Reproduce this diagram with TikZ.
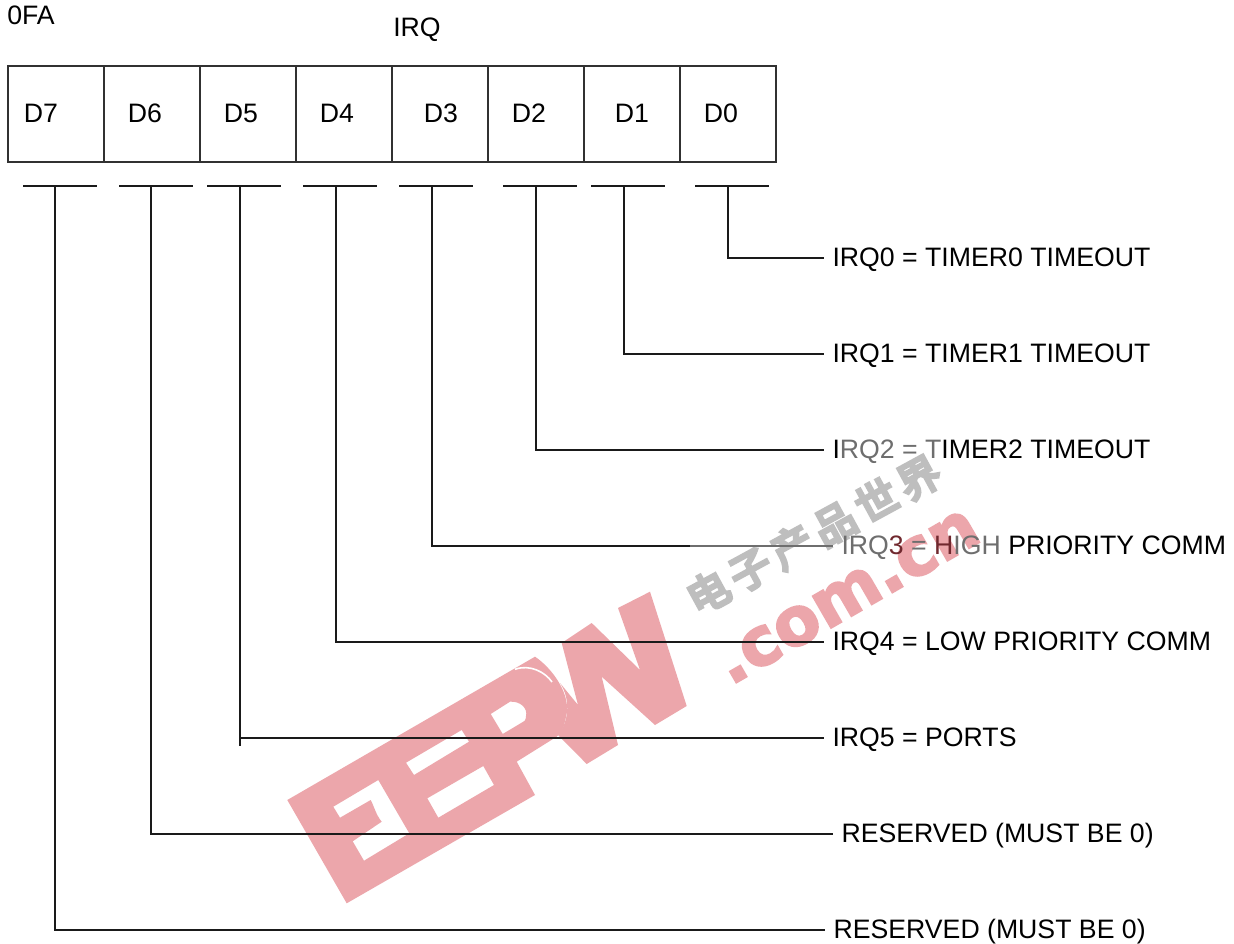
\documentclass[tikz,border=0pt]{standalone}
\usepackage{fontspec}
\setmainfont{Liberation Sans}
\newfontfamily\cjkmark[FakeBold=8]{Noto Sans CJK SC}
\newfontfamily\latmark[FakeBold=3]{DejaVu Sans Bold}
\definecolor{wmred}{HTML}{ECA6AB}
\definecolor{wmgray}{HTML}{BEBEBE}
\definecolor{ink}{HTML}{1A1A1A}
\definecolor{fade}{HTML}{6E6E6E}
\definecolor{deepred}{HTML}{70282E}
\tikzset{
  wire/.style={draw=ink,line width=1pt},
  cell/.style={draw=ink!90,line width=1.25pt,outer sep=0pt,minimum width=72pt,minimum height=72pt,inner sep=0pt,anchor=north west},
  txt/.style={font=\fontsize{20}{20}\selectfont,text=black,inner ysep=0pt,inner xsep=0pt,text height=14.3pt,text depth=0pt,anchor=west},
  lab/.style={txt,inner xsep=6.2pt,text depth=1.5pt},
}
\begin{document}
\begin{tikzpicture}[x=.75pt,y=-.75pt]
\useasboundingbox (0,0) rectangle (1234,944);
\fill[white] (0,0) rectangle (1234,944);
% watermark
\fill[wmred,even odd rule]
  (287.3,800) -- (535,656.7) .. controls (552,668) and (572,695) .. (566,717)
  .. controls (564,727) and (562,732) .. (556.7,736.7) -- (516.7,761.7) -- (535,795) -- (346.7,903.3) -- cycle
  (333.3,806.7) -- (378.3,780) -- (409.3,833.3) -- (364,860.7) -- (352.7,841.3) -- (381.7,821.7)
     .. controls (376,815) and (374,806) .. (370.7,800) -- (340,817.7) -- cycle
  (406,762.7) -- (461.7,730) -- (469,741.7) -- (414,775) -- cycle
  (427.3,798.3) -- (483.3,766) -- (494,785) -- (438.3,817.7) -- cycle
  (490.7,714) -- (510,701.7) .. controls (520,701) and (528,708) .. (526,716) .. controls (526,720) and (524,722) .. (523.3,721.7) -- (502.7,734) -- cycle;
\fill[wmred]
  (560,683) -- (578,705) -- (561.7,643) -- (591.7,623) -- (640,670) -- (618,608) -- (650,591.7)
  -- (686.7,706) -- (655,725) -- (601.7,676.7) -- (618,745) -- (586.7,764) -- (558,735)
  .. controls (570,720) and (570,698) .. (560,683) -- cycle;
\draw[white,line width=1.2pt] (515,669.3) .. controls (530,664) and (545,672) .. (552,682);
\node[rotate=30,text=wmred,inner sep=0pt,font=\fontsize{50}{50}\selectfont\latmark] (wmcom) at (848,597) {.com.cn};
\node[rotate=28.6,text=wmgray,inner sep=0pt,font=\fontsize{31}{31}\selectfont\cjkmark] (wmcn) at (813.5,535) {电\kern5pt 子\kern5pt 产\kern5pt 品\kern5pt 世\kern5pt 界};
% register
\node[cell] (c7) at (8,66) {};
\node[cell] (c6) at (104,66) {};
\node[cell] (c5) at (200,66) {};
\node[cell] (c4) at (296,66) {};
\node[cell] (c3) at (392,66) {};
\node[cell] (c2) at (488,66) {};
\node[cell] (c1) at (584,66) {};
\node[cell] (c0) at (680,66) {};
\node[txt,anchor=center] (d7) at (41,113) {D7};
\node[txt,anchor=center] (d6) at (145,113) {D6};
\node[txt,anchor=center] (d5) at (241,113) {D5};
\node[txt,anchor=center] (d4) at (337,113) {D4};
\node[txt,anchor=center] (d3) at (441,113) {D3};
\node[txt,anchor=center] (d2) at (529,113) {D2};
\node[txt,anchor=center] (d1) at (632,113) {D1};
\node[txt,anchor=center] (d0) at (721,113) {D0};
\node[txt] (addr) at (7,15) {0FA};
\node[txt] (name) at (393,27) {IRQ};
% labels
\node[lab] (l0) at (824,258) {IRQ0 = TIMER0 TIMEOUT};
\node[lab] (l1) at (824,354) {IRQ1 = TIMER1 TIMEOUT};
\node[lab] (l2) at (824,450) {I\textcolor{fade}{RQ2 = T}IMER2 TIMEOUT};
\node[lab] (l3) at (833,546) {\textcolor{fade}{IRQ}\textcolor{deepred}{3}\textcolor{fade}{\ =\ }\textcolor{deepred}{H}\textcolor{fade}{IGH} PRIORITY COMM};
\node[lab] (l4) at (824,642) {IRQ4 = LOW PRIORITY COMM};
\node[lab] (l5) at (824,738) {IRQ5 = PORTS};
\node[lab] (l6) at (833,834) {RESERVED (MUST BE 0)};
\node[lab] (l7) at (825,930) {RESERVED (MUST BE 0)};
% brackets
\coordinate (b7a) at (23,186); \coordinate (b7b) at (97,186); \coordinate (t7) at (55,186);
\coordinate (b6a) at (119,186); \coordinate (b6b) at (193,186); \coordinate (t6) at (151,186);
\coordinate (b5a) at (207,186); \coordinate (b5b) at (281,186); \coordinate (t5) at (240,186);
\coordinate (b4a) at (303,186); \coordinate (b4b) at (377,186); \coordinate (t4) at (336,186);
\coordinate (b3a) at (399,186); \coordinate (b3b) at (473,186); \coordinate (t3) at (432,186);
\coordinate (b2a) at (503,186); \coordinate (b2b) at (577,186); \coordinate (t2) at (536,186);
\coordinate (b1a) at (591,186); \coordinate (b1b) at (665,186); \coordinate (t1) at (624,186);
\coordinate (b0a) at (695,186); \coordinate (b0b) at (769,186); \coordinate (t0) at (728,186);
\foreach \n in {0,...,7} {\draw[wire] (b\n a) -- (b\n b);}
\draw[wire] (t0) |- (l0.west);
\draw[wire] (t1) |- (l1.west);
\draw[wire] (t2) |- (l2.west);
\coordinate (k3) at (690,546);
\draw[wire] (t3) |- (k3);
\draw[fade,line width=1pt] (k3) -- (l3.west);
\draw[wire] (t4) |- (l4.west);
\coordinate (s5) at (240,746);
\draw[wire] (t5) -- (s5);
\draw[wire] (t5 |- l5.west) -- (l5.west);
\draw[wire] (t6) |- (l6.west);
\draw[wire] (t7) |- (l7.west);
\end{tikzpicture}
\end{document}
